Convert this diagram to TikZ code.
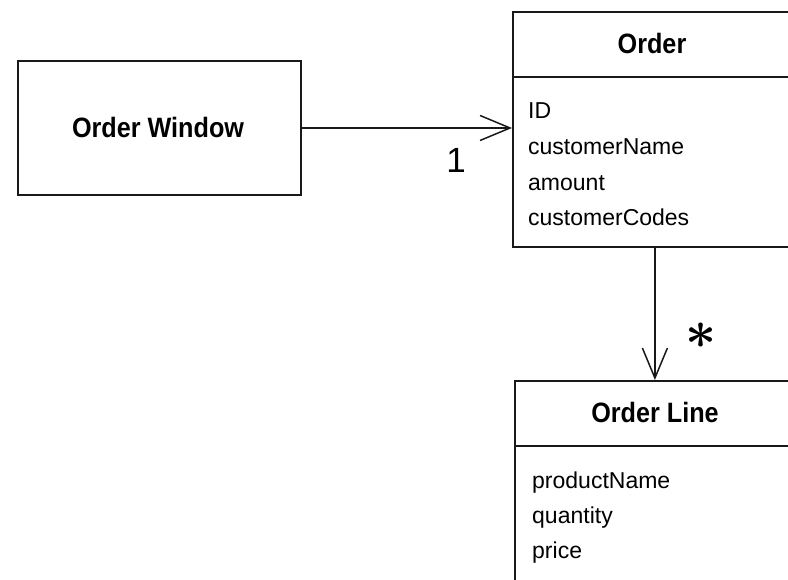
\documentclass[tikz,border=0pt]{standalone}
\usepackage{graphicx}
\usepackage{fontspec}
\setmainfont{Liberation Sans}
\newfontfamily\titlefont[FakeStretch=0.9]{Liberation Sans}
\usetikzlibrary{arrows.meta}
\tikzset{
  x=1pt, y=1pt,
  box/.style={draw=black!90, line width=1.8pt, rectangle, inner sep=0pt, fill=none},
  divider/.style={draw=black!90, line width=1.6pt},
  assoc/.style={draw=black!90, line width=1.5pt, -{Straight Barb[length=30pt,width=25pt,line width=1.5pt]}},
  title/.style={font=\titlefont\bfseries\fontsize{28}{32}\selectfont, inner sep=0pt},
  attr/.style={font=\fontsize{23}{27}\selectfont, inner sep=0pt, anchor=base west},
  mult/.style={inner sep=0pt}
}
\begin{document}
\begin{tikzpicture}
\path[use as bounding box, clip] (0,0) rectangle (788,-580);
% Order Window
\node[box, minimum width=283, minimum height=134, anchor=north west] (win) at (17,-60) {};
\node[title] (wintext) at (158,-127) {Order Window};
% Order class
\node[box, minimum width=284, minimum height=235, anchor=north west] (order) at (512,-11) {};
\draw[divider] ([yshift=-66]order.north west) -- ([yshift=-66]order.north east);
\node[title] (ordertitle) at (652,-43) {Order};
\node[attr] (a1) at (528,-119) {ID};
\node[attr] (a2) at (528,-155) {customerName};
\node[attr] (a3) at (528,-191) {amount};
\node[attr] (a4) at (528,-226) {customerCodes};
% Order Line class
\node[box, minimum width=280, minimum height=230, anchor=north west] (line) at (514,-380) {};
\draw[divider] ([yshift=-66]line.north west) -- ([yshift=-66]line.north east);
\node[title] (linetitle) at (655,-412) {Order Line};
\node[attr] (b1) at (532,-488) {productName};
\node[attr] (b2) at (532,-523) {quantity};
\node[attr] (b3) at (532,-558) {price};
% connectors
\draw[assoc] (win.east |- 0,-128) coordinate (c1) -- (order.west |- c1);
\draw[assoc] (order.south) -- (line.north);
\node[mult, font=\fontsize{35}{38}\selectfont] (one) at (456,-160) {1};
\node[mult] (star) at (701,-336) {\scalebox{5.4}{\boldmath$\ast$}};
\end{tikzpicture}
\end{document}
